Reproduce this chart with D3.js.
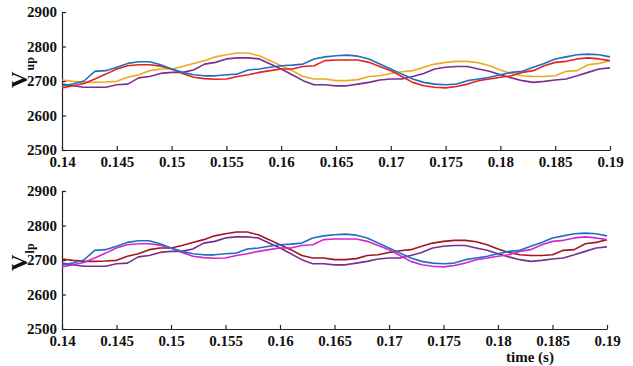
<!DOCTYPE html>
<html>
<head>
<meta charset="utf-8">
<script src="https://cdn.jsdelivr.net/npm/d3@7"></script>
<style>
html,body{margin:0;padding:0;background:#fff;}
svg{display:block;}
</style>
</head>
<body>
<svg id="chart" width="633" height="366"></svg>
<script>
const time = [0.140,0.141,0.142,0.143,0.144,0.145,0.146,0.147,0.148,0.149,
  0.150,0.151,0.152,0.153,0.154,0.155,0.156,0.157,0.158,0.159,
  0.160,0.161,0.162,0.163,0.164,0.165,0.166,0.167,0.168,0.169,
  0.170,0.171,0.172,0.173,0.174,0.175,0.176,0.177,0.178,0.179,
  0.180,0.181,0.182,0.183,0.184,0.185,0.186,0.187,0.188,0.189,0.190];

const seriesA = [2686,2691,2700,2728,2730,2740,2751,2756,2756,2747,
  2735,2725,2718,2715,2715,2718,2720,2732,2735,2740,
  2744,2746,2749,2764,2770,2773,2775,2772,2764,2749,
  2735,2720,2706,2696,2691,2689,2691,2701,2706,2711,
  2718,2725,2728,2740,2751,2764,2770,2776,2778,2776,2770];

const seriesB = [2680,2686,2693,2706,2720,2735,2744,2747,2747,2743,
  2735,2722,2711,2707,2705,2706,2713,2718,2725,2730,
  2735,2735,2742,2744,2759,2761,2761,2761,2754,2742,
  2730,2713,2696,2686,2682,2680,2684,2691,2701,2706,
  2711,2715,2725,2730,2744,2754,2757,2764,2767,2764,2759];

const seriesC = [2703,2699,2696,2696,2697,2699,2711,2718,2730,2735,
  2735,2742,2751,2759,2770,2776,2781,2781,2773,2759,
  2744,2730,2713,2706,2706,2701,2701,2704,2713,2715,
  2722,2727,2730,2740,2749,2754,2757,2757,2753,2744,
  2732,2722,2715,2713,2713,2715,2728,2730,2747,2751,2759];

const seriesD = [2691,2686,2682,2682,2682,2689,2691,2709,2713,2722,
  2725,2725,2732,2749,2754,2764,2767,2767,2764,2749,
  2735,2718,2701,2689,2689,2686,2686,2691,2696,2703,
  2706,2706,2713,2722,2735,2740,2742,2742,2735,2728,
  2718,2709,2701,2696,2699,2703,2706,2715,2725,2735,2738];

const xTicks = [0.14,0.145,0.15,0.155,0.16,0.165,0.17,0.175,0.18,0.185,0.19];
const xTickLabels = ["0.14","0.145","0.15","0.155","0.16","0.165","0.17","0.175","0.18","0.185","0.19"];
const yTicks = [2500,2600,2700,2800,2900];
const yDomain = [2500,2900];
const xDomain = [0.14,0.19];

const panels = [
  {label:"V", sub:"up", left:62, right:610, top:12, bottom:150, labelY:88,
   series:[
     {values:seriesC, color:"#EDA920"},
     {values:seriesD, color:"#7B2E8E"},
     {values:seriesB, color:"#E4241B"},
     {values:seriesA, color:"#1F6FC0"}
   ]},
  {label:"V", sub:"lp", left:62, right:607, top:191, bottom:329, labelY:271,
   series:[
     {values:seriesC, color:"#A3151F"},
     {values:seriesD, color:"#7B2E8E"},
     {values:seriesB, color:"#D626D0"},
     {values:seriesA, color:"#1F6FC0"}
   ]}
];

const svg = d3.select("#chart");
const font = "'Liberation Serif','Times New Roman',serif";

panels.forEach((p, pi) => {
  const x = d3.scaleLinear().domain(xDomain).range([p.left, p.right]);
  const y = d3.scaleLinear().domain(yDomain).range([p.bottom, p.top]);
  const g = svg.append("g");

  const xAxis = d3.axisBottom(x).tickValues(xTicks)
    .tickFormat((d,i)=>xTickLabels[i]).tickSizeInner(-4).tickSizeOuter(0).tickPadding(6);
  const yAxis = d3.axisLeft(y).tickValues(yTicks)
    .tickFormat(d3.format("d")).tickSizeInner(-4).tickSizeOuter(0).tickPadding(5);

  const gx = g.append("g").attr("transform",`translate(0,${p.bottom})`).call(xAxis);
  const gy = g.append("g").attr("transform",`translate(${p.left},0)`).call(yAxis);
  [gx, gy].forEach(a => {
    a.selectAll("path.domain").attr("stroke","#222").attr("stroke-width",1.2);
    a.selectAll(".tick line").attr("stroke","#222").attr("stroke-width",1.2);
    a.selectAll(".tick text").attr("fill","#111")
      .style("font-family",font).style("font-weight","bold").style("font-size","15px");
  });

  const line = d3.line().x((d,i)=>x(time[i])).y(d=>y(d)).curve(d3.curveLinear);
  p.series.forEach(s => {
    g.append("path").datum(s.values).attr("d",line)
      .attr("fill","none").attr("stroke",s.color).attr("stroke-width",1.6)
      .attr("stroke-linejoin","round");
  });

  const t = g.append("text")
    .attr("transform",`translate(27,${p.labelY}) rotate(-90)`)
    .style("font-family",font).style("font-weight","bold").attr("fill","#111");
  t.append("tspan").style("font-size","23px").text(p.label);
  t.append("tspan").style("font-size","12px").attr("dy","7").attr("dx","1").text(p.sub);

  if (pi === 1) {
    g.append("text").attr("x",530).attr("y",362).attr("text-anchor","middle")
      .style("font-family",font).style("font-weight","bold").style("font-size","15px")
      .attr("fill","#111").text("time (s)");
  }
});
</script>
</body>
</html>
